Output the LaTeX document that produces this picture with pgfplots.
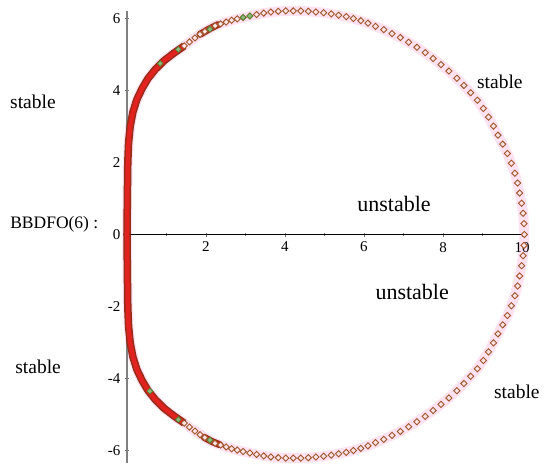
\documentclass[border=0pt]{standalone}
\usepackage{pgfplots}
\pgfplotsset{compat=1.18}
\usepackage{fontspec}
\setmainfont{Liberation Serif}
\definecolor{mkdraw}{RGB}{160,85,45}
\definecolor{mkfill}{RGB}{252,228,228}
\definecolor{halo}{RGB}{255,226,242}
\definecolor{bandred}{RGB}{226,34,30}
\definecolor{banddark}{RGB}{150,45,25}
\definecolor{mkgreen}{RGB}{70,135,40}
\pgfplotsset{layers/labelsontop/.define layer set={axis background,axis grid,axis ticks,axis lines,main,axis tick labels,axis descriptions,axis foreground}{}}
\begin{document}
\begin{tikzpicture}
\begin{axis}[
  set layers=labelsontop,
  x=39.5pt, y=36pt,
  xmin=0, xmax=10.15, ymin=-6.35, ymax=6.2,
  axis x line=middle, axis y line=middle,
  separate axis lines,
  x axis line style={-, black, line width=0.9pt},
  y axis line style={-, black!50, line width=2pt},
  clip=false,
  xtick={2,4,6,8,10}, minor xtick={1,3,5,7,9},
  ytick={-6,-4,-2,0,2,4,6},
  hide obscured y ticks=false,
  hide obscured x ticks=false,
  major tick length=4pt, minor tick length=3pt,
  tick style={black!55, line width=0.4pt},
  tick label style={font=\fontsize{15}{15}\selectfont},
  /pgf/number format/assume math mode=true,
  xticklabel style={yshift=-2pt},
  yticklabel style={xshift=-1pt},
]
% bounding box
\path (axis cs:-3.215,6.514) rectangle (axis cs:10.709,-6.597);

% halo
\addplot[on layer=axis background, halo, line width=10pt, no marks, line join=round] coordinates {
(10.06,0.00)(10.03,0.59)(9.94,1.15)(9.82,1.70)(9.63,2.25)(9.39,2.76)(9.15,3.26)(8.87,3.73)(8.53,4.14)(8.15,4.54)(7.75,4.89)(7.34,5.20)(6.92,5.47)(6.50,5.69)(6.10,5.87)(5.73,6.00)(5.36,6.09)(4.98,6.16)(4.59,6.20)(4.21,6.21)(3.83,6.20)(3.46,6.15)(3.11,6.07)(2.79,5.99)(2.51,5.90)(2.23,5.80)(1.97,5.64)(1.72,5.46)(1.45,5.24)(1.19,5.04)(0.94,4.83)(0.72,4.59)(0.53,4.33)(0.38,4.05)(0.25,3.75)(0.15,3.40)(0.08,3.00)(0.04,2.55)(0.02,2.00)(0.01,1.10)(0.00,0.00)
(0.01,-1.10)(0.02,-2.00)(0.04,-2.55)(0.08,-3.00)(0.15,-3.40)(0.25,-3.75)(0.38,-4.05)(0.53,-4.33)(0.72,-4.59)(0.94,-4.83)(1.19,-5.04)(1.45,-5.24)(1.72,-5.46)(1.97,-5.64)(2.23,-5.80)(2.51,-5.90)(2.79,-5.99)(3.11,-6.07)(3.46,-6.15)(3.83,-6.20)(4.21,-6.21)(4.59,-6.20)(4.98,-6.16)(5.36,-6.09)(5.73,-6.00)(6.10,-5.87)(6.50,-5.69)(6.92,-5.47)(7.34,-5.20)(7.75,-4.89)(8.15,-4.54)(8.53,-4.14)(8.87,-3.73)(9.15,-3.26)(9.39,-2.76)(9.63,-2.25)(9.82,-1.70)(9.94,-1.15)(10.03,-0.59)(10.06,0.00)
};

% dense inner band (overlapping markers)
\addplot[banddark, line width=7.5pt, no marks, line join=round] coordinates {
(1.45,5.24)(1.19,5.04)(0.94,4.83)(0.72,4.59)(0.53,4.33)(0.38,4.05)(0.25,3.75)(0.15,3.40)(0.08,3.00)(0.04,2.55)(0.02,2.00)(0.01,1.10)(0.00,0.00)
(0.01,-1.10)(0.02,-2.00)(0.04,-2.55)(0.08,-3.00)(0.15,-3.40)(0.25,-3.75)(0.38,-4.05)(0.53,-4.33)(0.72,-4.59)(0.94,-4.83)(1.19,-5.04)(1.45,-5.24)
};
\addplot[bandred, line width=4.5pt, no marks, line join=round] coordinates {
(1.45,5.24)(1.19,5.04)(0.94,4.83)(0.72,4.59)(0.53,4.33)(0.38,4.05)(0.25,3.75)(0.15,3.40)(0.08,3.00)(0.04,2.55)(0.02,2.00)(0.01,1.10)(0.00,0.00)
(0.01,-1.10)(0.02,-2.00)(0.04,-2.55)(0.08,-3.00)(0.15,-3.40)(0.25,-3.75)(0.38,-4.05)(0.53,-4.33)(0.72,-4.59)(0.94,-4.83)(1.19,-5.04)(1.45,-5.24)
};
\addplot[banddark, line width=7pt, no marks, line cap=round] coordinates {(1.85,5.56)(2.10,5.72)(2.30,5.83)};
\addplot[bandred, line width=4.5pt, no marks, line cap=round] coordinates {(1.85,5.56)(2.10,5.72)(2.30,5.83)};
\addplot[banddark, line width=7pt, no marks, line cap=round] coordinates {(1.95,-5.63)(2.15,-5.75)(2.35,-5.84)};
\addplot[bandred, line width=4.5pt, no marks, line cap=round] coordinates {(1.95,-5.63)(2.15,-5.75)(2.35,-5.84)};

% boundary locus markers
\addplot[only marks, mark=square*, mark size=2.2pt,
  mark options={rotate=45, draw=mkdraw, fill=mkfill, line width=0.9pt}] coordinates {
(10.06,0.00)(10.05,0.30)(10.03,0.59)(9.99,0.87)(9.94,1.15)(9.89,1.43)(9.82,1.70)(9.73,1.98)(9.63,2.25)(9.51,2.51)
(9.39,2.76)(9.28,3.01)(9.15,3.26)(9.02,3.50)(8.87,3.73)(8.70,3.94)(8.53,4.14)(8.35,4.34)(8.15,4.54)(7.95,4.72)
(7.75,4.89)(7.55,5.05)(7.34,5.20)(7.13,5.34)(6.92,5.47)(6.71,5.58)(6.50,5.69)(6.29,5.78)(6.10,5.87)(5.92,5.94)
(5.73,6.00)(5.55,6.05)(5.36,6.09)(5.17,6.13)(4.98,6.16)(4.78,6.18)(4.59,6.20)(4.40,6.21)(4.21,6.21)(4.02,6.21)
(3.83,6.20)(3.64,6.18)(3.46,6.15)(3.28,6.11)(3.11,6.07)(2.94,6.03)(2.79,5.99)(2.65,5.95)(2.51,5.90)(2.37,5.85)
(2.23,5.80)(2.10,5.72)(1.97,5.64)(1.85,5.56)(1.72,5.46)(1.58,5.35)(1.45,5.24)
(10.05,-0.30)(10.03,-0.59)(9.99,-0.87)(9.94,-1.15)(9.89,-1.43)(9.82,-1.70)(9.73,-1.98)(9.63,-2.25)(9.51,-2.51)
(9.39,-2.76)(9.28,-3.01)(9.15,-3.26)(9.02,-3.50)(8.87,-3.73)(8.70,-3.94)(8.53,-4.14)(8.35,-4.34)(8.15,-4.54)(7.95,-4.72)
(7.75,-4.89)(7.55,-5.05)(7.34,-5.20)(7.13,-5.34)(6.92,-5.47)(6.71,-5.58)(6.50,-5.69)(6.29,-5.78)(6.10,-5.87)(5.92,-5.94)
(5.73,-6.00)(5.55,-6.05)(5.36,-6.09)(5.17,-6.13)(4.98,-6.16)(4.78,-6.18)(4.59,-6.20)(4.40,-6.21)(4.21,-6.21)(4.02,-6.21)
(3.83,-6.20)(3.64,-6.18)(3.46,-6.15)(3.28,-6.11)(3.11,-6.07)(2.94,-6.03)(2.79,-5.99)(2.65,-5.95)(2.51,-5.90)(2.37,-5.85)
(2.23,-5.80)(2.10,-5.72)(1.97,-5.64)(1.85,-5.56)(1.72,-5.46)(1.58,-5.35)(1.45,-5.24)
};
% green markers of the second series
\addplot[only marks, mark=square*, mark size=2.0pt,
  mark options={rotate=45, draw=mkgreen, fill=mkgreen!60, line width=0.6pt}] coordinates {
(0.84,4.75)(1.30,5.14)(2.10,5.70)(2.94,6.03)(3.11,6.07)(0.58,-4.35)(1.30,-5.14)(2.10,-5.71)
};

\node[font=\fontsize{19.5}{19.5}\selectfont] at (axis cs:-2.38,3.68) {stable};
\node[font=\fontsize{17.5}{17.5}\selectfont] at (axis cs:-1.84,0.29) {BBDFO(6) :};
\node[font=\fontsize{19.5}{19.5}\selectfont] at (axis cs:9.44,4.24) {stable};
\node[font=\fontsize{22}{22}\selectfont] at (axis cs:6.76,0.85) {unstable};
\node[font=\fontsize{22}{22}\selectfont] at (axis cs:7.22,-1.60) {unstable};
\node[font=\fontsize{19.5}{19.5}\selectfont] at (axis cs:-2.25,-3.68) {stable};
\node[font=\fontsize{19.5}{19.5}\selectfont] at (axis cs:9.87,-4.36) {stable};
\end{axis}
\end{tikzpicture}
\end{document}
